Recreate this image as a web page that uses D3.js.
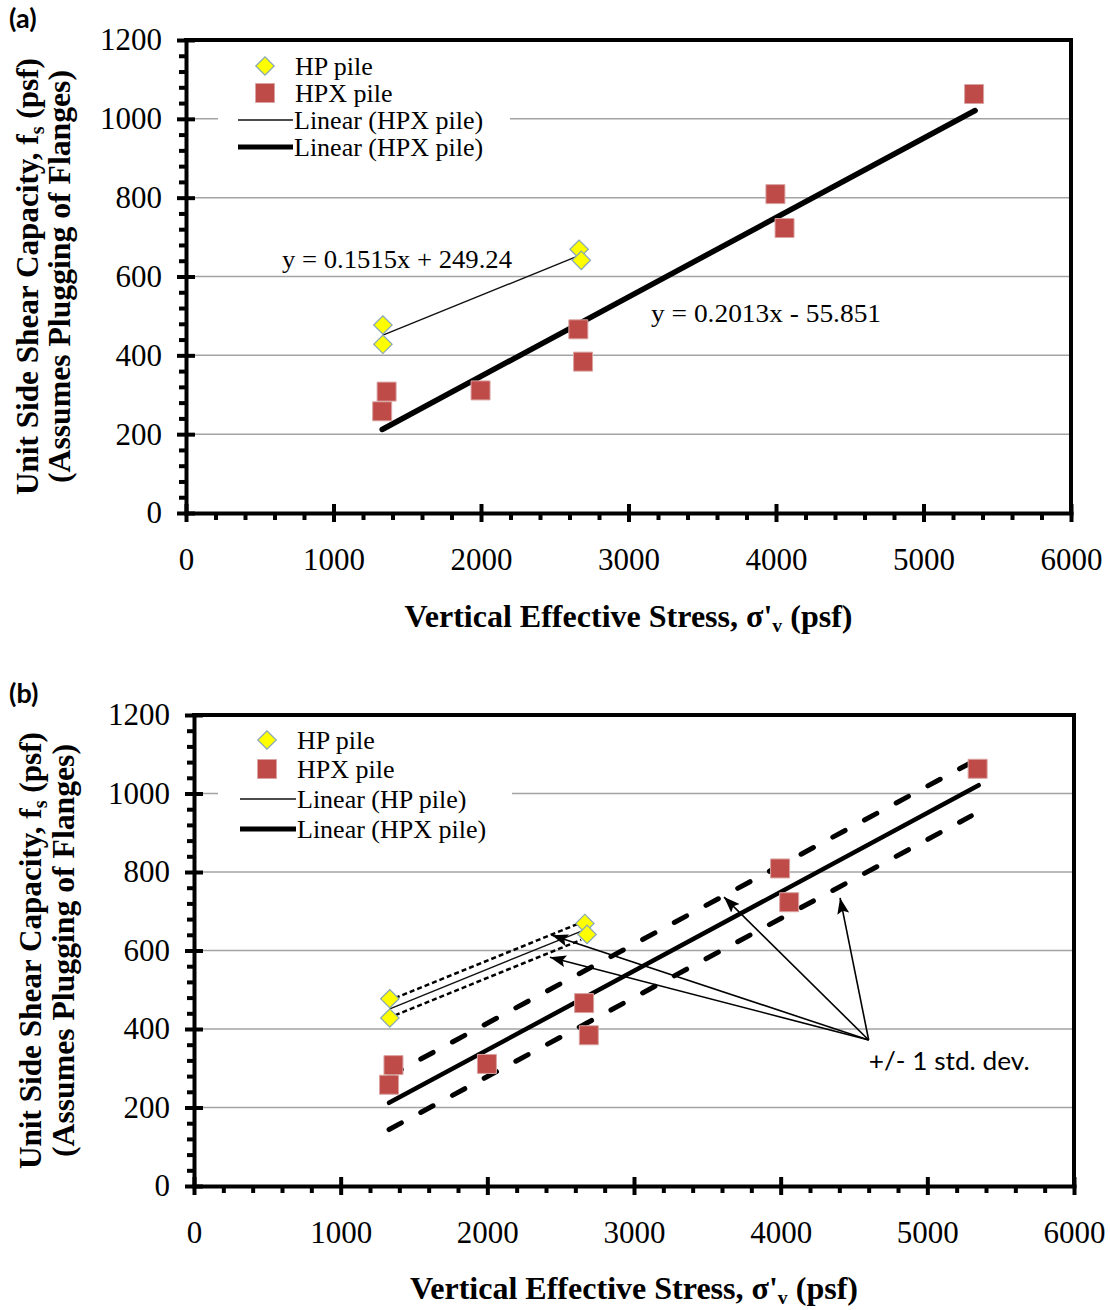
<!DOCTYPE html>
<html>
<head>
<meta charset="utf-8">
<script src="https://cdn.jsdelivr.net/npm/d3@7"></script>
<style>
  body { margin: 0; background: #fff; }
  svg { display: block; }
</style>
</head>
<body>
<svg id="chart" width="1110" height="1310"></svg>
<script>
// Axis ticks
const xTickValues = [0, 1000, 2000, 3000, 4000, 5000, 6000];
const yTickValues = [0, 200, 400, 600, 800, 1000, 1200];

// HP pile: vertical effective stress (psf) and unit side shear (psf)
const hpStress = [1335, 1335, 2665, 2680];
const hpCapacity = [477, 428, 669, 641];

// HPX pile: vertical effective stress (psf) and unit side shear (psf)
const hpxStress = [1330, 1360, 1997, 2660, 2692, 3996, 4058, 5343];
const hpxCapacity = [258, 308, 311, 466, 384, 809, 723, 1063];

// Linear fits [slope, intercept] and the stress range each is drawn over
const hpFitCoef = [0.1515, 249.24];
const hpFitRange = [1335, 2672];
const hpxFitCoef = [0.2013, -55.851];
const hpxFitRange = [1330, 5350];

// +/- one standard deviation about each fit
const hpStdDev = 22;
const hpStdRange = [1370, 2640];
const hpxStdDev = 68;
const hpxStdRange = [1330, 5300];

// Fit equation labels (panel a): text and anchor in data units
const fitLabels = ["y = 0.1515x + 249.24", "y = 0.2013x - 55.851"];
const fitLabelAt = [[651, 621], [3153, 485]];

// Std. dev. callout (panel b): arrow tail and arrow tips in data units
const calloutText = "+/- 1 std. dev.";
const calloutFrom = [4600, 372];
const calloutTips = [[2441, 639], [2427, 583], [3614, 736], [4405, 734]];

// Legend labels for each panel
const legendLabelsA = ["HP pile", "HPX pile", "Linear (HPX pile)", "Linear (HPX pile)"];
const legendLabelsB = ["HP pile", "HPX pile", "Linear (HP pile)", "Linear (HPX pile)"];

const SERIF = "'Liberation Serif', 'Times New Roman', serif";
const SANS = "Lato, 'Open Sans', sans-serif";
const HP_FILL = "#FFFF00", HP_STROKE = "#86A6B6";
const HPX_FILL = "#BE4B48", HPX_STROKE = "#D9A3A1";
const tickFmt = d3.format("d");

const svg = d3.select("#chart");

svg.append("defs").append("marker")
  .attr("id", "arrowhead")
  .attr("viewBox", "0 0 16 12")
  .attr("refX", 16).attr("refY", 6)
  .attr("markerWidth", 16).attr("markerHeight", 12)
  .attr("markerUnits", "userSpaceOnUse")
  .attr("orient", "auto")
  .append("path").attr("d", "M0,0 L16,6 L0,12 L3,6 Z").attr("fill", "#000");

const panels = [
  { tag: "(a)", tagY: 28, left: 186, right: 1071, top: 40, bottom: 513,
    titleX1: 38, titleX2: 70, xTitleY: 627, legend: legendLabelsA,
    legendBox: [32, 10, 292, 118], legendRows: [26, 53, 80, 107],
    legendMarkX: 79, legendLine: [52, 107], legendTextX: 109, bands: false },
  { tag: "(b)", tagY: 703, left: 194, right: 1074, top: 715, bottom: 1186,
    titleX1: 41, titleX2: 74, xTitleY: 1299, legend: legendLabelsB,
    legendBox: [24, 8, 294, 124], legendRows: [25, 54, 84, 114],
    legendMarkX: 73, legendLine: [46, 102], legendTextX: 103, bands: true }
];

function styleTicks(sel) {
  sel.selectAll("line").attr("stroke", "#000").attr("stroke-width", 4);
  sel.selectAll("path.domain").attr("stroke", "#000").attr("stroke-width", 4).attr("stroke-linecap", "square");
  sel.selectAll("text").attr("font-family", SERIF).attr("font-size", 31).attr("fill", "#000");
  sel.attr("font-family", null).attr("font-size", null);
}

function drawPanel(p) {
  const g = svg.append("g");
  const x = d3.scaleLinear().domain([0, 6000]).range([p.left, p.right]);
  const y = d3.scaleLinear().domain([0, 1200]).range([p.bottom, p.top]);
  const line = d3.line().x(d => x(d[0])).y(d => y(d[1]));
  const fitPts = (coef, range, off) => range.map(v => [v, coef[0] * v + coef[1] + off]);

  // horizontal gridlines
  g.append("g").selectAll("line")
    .data(yTickValues.filter(v => v > 0 && v < 1200))
    .join("line")
    .attr("x1", p.left).attr("x2", p.right)
    .attr("y1", d => y(d)).attr("y2", d => y(d))
    .attr("stroke", "#a3a3a3").attr("stroke-width", 1.5);

  // top and right border of the plot area
  g.append("path")
    .attr("d", `M${p.left},${y(1200)} H${x(6000)} V${y(0)}`)
    .attr("fill", "none").attr("stroke", "#000").attr("stroke-width", 4)
    .attr("stroke-linecap", "square");

  // y axis: minor ticks outward, major ticks crossing the axis
  const yMinor = d3.range(0, 1201, 40).filter(v => v % 200 !== 0);
  g.append("g").attr("transform", `translate(${p.left},0)`)
    .call(d3.axisLeft(y).tickValues(yMinor).tickSize(7).tickFormat(""))
    .call(s => s.select(".domain").remove()).call(styleTicks);
  g.append("g").attr("transform", `translate(${p.left},0)`)
    .call(d3.axisRight(y).tickValues(yTickValues).tickSize(9).tickFormat(""))
    .call(s => s.select(".domain").remove()).call(styleTicks);
  g.append("g").attr("transform", `translate(${p.left},0)`)
    .call(d3.axisLeft(y).tickValues(yTickValues).tickFormat(tickFmt)
      .tickSizeInner(9).tickSizeOuter(0).tickPadding(15))
    .call(styleTicks);

  // x axis
  const xMinor = d3.range(0, 6001, 200).filter(v => v % 1000 !== 0);
  g.append("g").attr("transform", `translate(0,${p.bottom})`)
    .call(d3.axisBottom(x).tickValues(xMinor).tickSize(7).tickFormat(""))
    .call(s => s.select(".domain").remove()).call(styleTicks);
  g.append("g").attr("transform", `translate(0,${p.bottom})`)
    .call(d3.axisTop(x).tickValues(xTickValues).tickSize(9).tickFormat(""))
    .call(s => s.select(".domain").remove()).call(styleTicks);
  g.append("g").attr("transform", `translate(0,${p.bottom})`)
    .call(d3.axisBottom(x).tickValues(xTickValues).tickFormat(tickFmt)
      .tickSizeInner(9).tickSizeOuter(0).tickPadding(26))
    .call(styleTicks);

  // +/- one standard deviation lines
  if (p.bands) {
    [hpxStdDev, -hpxStdDev].forEach(off => {
      g.append("path").attr("d", line(fitPts(hpxFitCoef, hpxStdRange, off)))
        .attr("fill", "none").attr("stroke", "#000").attr("stroke-width", 5)
        .attr("stroke-linecap", "round").attr("stroke-dasharray", "14,22");
    });
    [hpStdDev, -hpStdDev].forEach(off => {
      g.append("path").attr("d", line(fitPts(hpFitCoef, hpStdRange, off)))
        .attr("fill", "none").attr("stroke", "#000").attr("stroke-width", 2.5)
        .attr("stroke-dasharray", "5,3");
    });
  }

  // linear fits
  g.append("path").attr("d", line(fitPts(hpFitCoef, hpFitRange, 0)))
    .attr("fill", "none").attr("stroke", "#111").attr("stroke-width", 1.4);
  g.append("path").attr("d", line(fitPts(hpxFitCoef, hpxFitRange, 0)))
    .attr("fill", "none").attr("stroke", "#000").attr("stroke-width", p.bands ? 4.5 : 5.5)
    .attr("stroke-linecap", "round");

  // markers
  const square = d3.symbol(d3.symbolSquare, 19 * 19)();
  const diamond = d3.symbol(d3.symbolSquare, 13 * 13)();
  g.append("g").selectAll("path")
    .data(d3.zip(hpxStress, hpxCapacity))
    .join("path")
    .attr("d", square)
    .attr("transform", d => `translate(${x(d[0])},${y(d[1])})`)
    .attr("fill", HPX_FILL).attr("stroke", HPX_STROKE).attr("stroke-width", 1);
  g.append("g").selectAll("path")
    .data(d3.zip(hpStress, hpCapacity))
    .join("path")
    .attr("d", diamond)
    .attr("transform", d => `translate(${x(d[0])},${y(d[1])}) rotate(45)`)
    .attr("fill", HP_FILL).attr("stroke", HP_STROKE).attr("stroke-width", 1.2);

  // fit equations (panel a)
  if (!p.bands) {
    g.append("g").selectAll("text")
      .data(d3.zip(fitLabels, fitLabelAt))
      .join("text")
      .attr("x", d => x(d[1][0])).attr("y", d => y(d[1][1]))
      .attr("font-family", SERIF).attr("font-size", 26).attr("fill", "#000")
      .attr("textLength", 230).attr("lengthAdjust", "spacingAndGlyphs")
      .text(d => d[0]);
  }

  // std. dev. callout (panel b)
  if (p.bands) {
    g.append("g").selectAll("line")
      .data(calloutTips)
      .join("line")
      .attr("x1", x(calloutFrom[0])).attr("y1", y(calloutFrom[1]))
      .attr("x2", d => x(d[0])).attr("y2", d => y(d[1]))
      .attr("stroke", "#000").attr("stroke-width", 1.6)
      .attr("marker-end", "url(#arrowhead)");
    g.append("text")
      .attr("x", x(calloutFrom[0])).attr("y", y(calloutFrom[1]) + 30)
      .attr("font-family", SANS).attr("font-size", 25).attr("fill", "#000")
      .attr("textLength", 161).attr("lengthAdjust", "spacingAndGlyphs")
      .text(calloutText);
  }

  // legend
  const lg = g.append("g").attr("transform", `translate(${p.left},${p.top})`);
  lg.append("rect")
    .attr("x", p.legendBox[0]).attr("y", p.legendBox[1])
    .attr("width", p.legendBox[2]).attr("height", p.legendBox[3])
    .attr("fill", "#fff");
  const r = p.legendRows;
  lg.append("path").attr("d", diamond)
    .attr("transform", `translate(${p.legendMarkX},${r[0]}) rotate(45)`)
    .attr("fill", HP_FILL).attr("stroke", HP_STROKE).attr("stroke-width", 1.2);
  lg.append("path").attr("d", square)
    .attr("transform", `translate(${p.legendMarkX},${r[1]})`)
    .attr("fill", HPX_FILL).attr("stroke", HPX_STROKE).attr("stroke-width", 1);
  lg.append("line").attr("x1", p.legendLine[0]).attr("x2", p.legendLine[1])
    .attr("y1", r[2]).attr("y2", r[2]).attr("stroke", "#111").attr("stroke-width", 1.4);
  lg.append("line").attr("x1", p.legendLine[0]).attr("x2", p.legendLine[1])
    .attr("y1", r[3]).attr("y2", r[3]).attr("stroke", "#000").attr("stroke-width", 5);
  lg.selectAll("text.leg")
    .data(p.legend)
    .join("text").attr("class", "leg")
    .attr("x", (d, i) => i < 2 ? p.legendTextX : p.legendLine[1] + 1)
    .attr("y", (d, i) => r[i] + 9)
    .attr("font-family", SERIF).attr("font-size", 26).attr("fill", "#000")
    .text(d => d);

  // y-axis title (two lines)
  const cy = (p.top + p.bottom) / 2;
  const t1 = g.append("text")
    .attr("transform", `translate(${p.titleX1},${cy}) rotate(-90)`)
    .attr("text-anchor", "middle")
    .attr("font-family", SERIF).attr("font-weight", "bold").attr("font-size", 31)
    .attr("textLength", 437).attr("lengthAdjust", "spacingAndGlyphs");
  t1.append("tspan").text("Unit Side Shear Capacity, f");
  t1.append("tspan").attr("font-size", 20).attr("dy", 6).text("s");
  t1.append("tspan").attr("dy", -6).text(" (psf)");
  g.append("text")
    .attr("transform", `translate(${p.titleX2},${cy}) rotate(-90)`)
    .attr("text-anchor", "middle")
    .attr("font-family", SERIF).attr("font-weight", "bold").attr("font-size", 31)
    .attr("textLength", 413).attr("lengthAdjust", "spacingAndGlyphs")
    .text("(Assumes Plugging of Flanges)");

  // x-axis title
  const xt = g.append("text")
    .attr("x", (p.left + p.right) / 2).attr("y", p.xTitleY)
    .attr("text-anchor", "middle")
    .attr("font-family", SERIF).attr("font-weight", "bold").attr("font-size", 31)
    .attr("textLength", 448).attr("lengthAdjust", "spacingAndGlyphs");
  xt.append("tspan").text("Vertical Effective Stress, σ'");
  xt.append("tspan").attr("font-size", 19).attr("dy", 5).text("v");
  xt.append("tspan").attr("dy", -5).text(" (psf)");

  // panel tag
  svg.append("text").attr("x", 9).attr("y", p.tagY)
    .attr("font-family", SANS).attr("font-weight", "bold").attr("font-size", 27)
    .text(p.tag);
}

panels.forEach(drawPanel);
</script>
</body>
</html>
